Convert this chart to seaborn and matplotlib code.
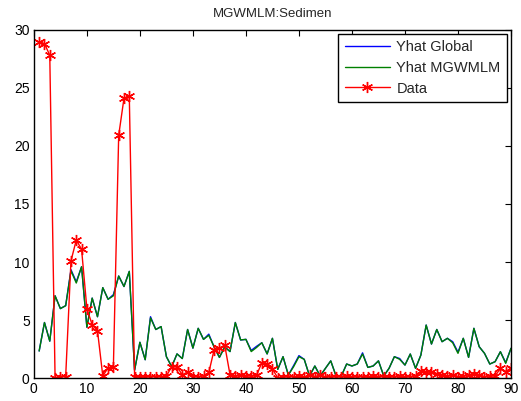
import numpy as np
import pandas as pd
import matplotlib
matplotlib.use("Agg")
import matplotlib.pyplot as plt
import seaborn as sns

obs = list(range(1, 91))

yhat_mgwmlm = [2.35, 4.8, 3.2, 7.1, 6.0, 6.25, 9.25, 8.2, 9.6, 4.4,
               6.9, 5.3, 7.8, 6.8, 7.1, 8.8, 7.9, 9.2, 0.7, 3.1,
               1.6, 5.2, 4.2, 4.45, 1.86, 1.0, 2.1, 1.7, 4.2, 2.6,
               4.3, 3.35, 3.7, 2.7, 1.8, 2.7, 2.3, 4.8, 3.3, 3.35,
               2.3, 2.65, 3.06, 2.1, 3.44, 0.77, 1.86, 0.28, 1.0, 1.86,
               1.63, 0.2, 1.06, 0.2, 0.86, 1.5, 0.2, 0.2, 1.23, 1.06,
               1.23, 2.09, 0.94, 1.06, 1.5, 0.2, 0.86, 1.86, 1.63, 1.14,
               2.09, 0.86, 2.0, 4.58, 2.95, 4.2, 3.15, 3.44, 3.06, 2.15,
               3.44, 1.8, 4.3, 2.72, 2.15, 1.23, 1.43, 2.29, 1.29, 2.58]

yhat_global = [2.35, 4.8, 3.2, 7.1, 6.0, 6.25, 9.35, 8.3, 9.6, 4.4,
               6.9, 5.3, 7.8, 6.8, 7.2, 8.8, 7.9, 9.2, 0.7, 3.1,
               1.6, 5.3, 4.2, 4.45, 1.86, 1.0, 2.1, 1.7, 4.2, 2.6,
               4.3, 3.35, 3.8, 2.7, 1.8, 2.7, 2.3, 4.8, 3.3, 3.35,
               2.4, 2.75, 3.06, 2.1, 3.44, 0.77, 1.86, 0.28, 1.1, 1.95,
               1.63, 0.2, 1.06, 0.2, 0.86, 1.5, 0.2, 0.2, 1.23, 1.06,
               1.23, 2.19, 0.94, 1.06, 1.5, 0.2, 0.86, 1.86, 1.7, 1.14,
               2.09, 0.86, 2.0, 4.58, 2.95, 4.2, 3.15, 3.44, 3.15, 2.25,
               3.44, 1.8, 4.3, 2.72, 2.15, 1.23, 1.43, 2.29, 1.35, 2.58]

data_obs = [28.9, 28.8, 27.8, 0.05, 0.1, 0.15, 10.1, 11.9, 11.1, 6.0,
            4.6, 4.1, 0.2, 0.9, 1.0, 20.9, 24.1, 24.3, 0.1, 0.1,
            0.1, 0.15, 0.1, 0.15, 0.2, 1.0, 1.0, 0.3, 0.55, 0.15,
            0.15, 0.2, 0.5, 2.45, 2.6, 2.85, 0.3, 0.2, 0.25, 0.2,
            0.2, 0.25, 1.35, 1.25, 0.8, 0.05, 0.1, 0.15, 0.1, 0.2,
            0.1, 0.3, 0.15, 0.25, 0.1, 0.1, 0.15, 0.1, 0.2, 0.1,
            0.15, 0.1, 0.1, 0.2, 0.15, 0.1, 0.1, 0.15, 0.2, 0.1,
            0.15, 0.2, 0.6, 0.55, 0.5, 0.4, 0.3, 0.2, 0.25, 0.15,
            0.2, 0.3, 0.35, 0.25, 0.15, 0.2, 0.2, 0.85, 0.55, 0.9]

series_names = ["Yhat Global", "Yhat MGWMLM", "Data"]
title_text = "MGWMLM:Sedimen"
x_ticks = [0, 10, 20, 30, 40, 50, 60, 70, 80, 90]
y_ticks = [0, 5, 10, 15, 20, 25, 30]

sns.set_style("white")
plt.rcParams["font.family"] = ["Liberation Sans", "DejaVu Sans"]
plt.rcParams["xtick.direction"] = "in"
plt.rcParams["ytick.direction"] = "in"

fig = plt.figure(figsize=(5.21, 4.01), dpi=100)
ax = fig.add_axes([0.065, 0.0566, 0.9158, 0.8694])

df = pd.DataFrame({"x": obs, "g": yhat_global, "m": yhat_mgwmlm, "d": data_obs})

sns.lineplot(data=df, x="x", y="g", ax=ax, color=(0, 0, 1), linewidth=1.0,
             label=series_names[0])
sns.lineplot(data=df, x="x", y="m", ax=ax, color=(0, 0.5, 0), linewidth=1.0,
             label=series_names[1])
sns.lineplot(data=df, x="x", y="d", ax=ax, color=(1, 0, 0), linewidth=1.0,
             marker=(6, 2, 0), markersize=8, markeredgewidth=1.0,
             markeredgecolor=(1, 0, 0), label=series_names[2])

ax.set_xlim(0, 90)
ax.set_ylim(0, 30)
ax.set_xticks(x_ticks)
ax.set_yticks(y_ticks)
ax.set_xlabel("")
ax.set_ylabel("")
ax.tick_params(axis="both", which="both", direction="in", length=4, width=0.8,
               top=True, right=True, labelsize=10, colors="black", pad=3)
for sp in ax.spines.values():
    sp.set_visible(True)
    sp.set_color("black")
    sp.set_linewidth(1.0)

ax.set_title(title_text, fontsize=9.5, pad=9)

leg = ax.legend(loc="upper right", bbox_to_anchor=(0.992, 0.988),
                borderaxespad=0, fancybox=False, edgecolor="black",
                framealpha=1, fontsize=10.5, handlelength=3.1,
                handletextpad=0.45, labelspacing=0.45, borderpad=0.45)
leg.get_frame().set_linewidth(1.0)

fig.savefig("out.png", dpi=100)
